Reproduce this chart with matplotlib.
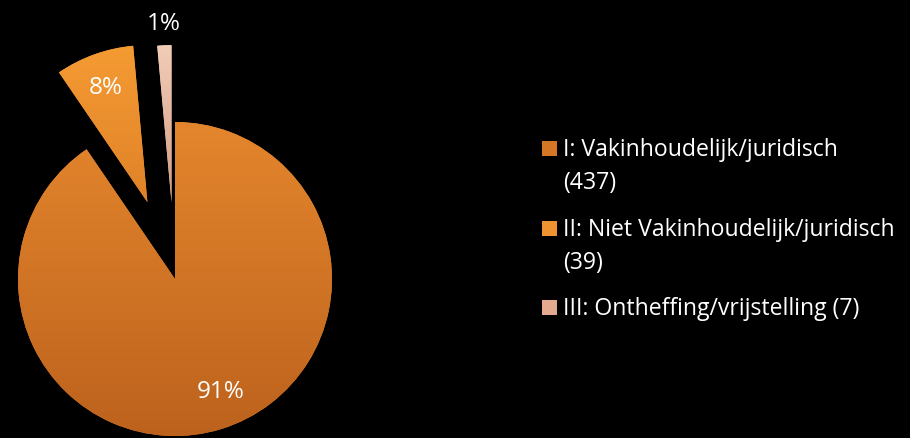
import numpy as np
import matplotlib
matplotlib.use('Agg')
import matplotlib.pyplot as plt
from matplotlib.colors import LinearSegmentedColormap
from matplotlib.patches import Rectangle

# data
categories = ['I: Vakinhoudelijk/juridisch', 'II: Niet Vakinhoudelijk/juridisch',
              'III: Ontheffing/vrijstelling']
counts = [437, 39, 7]
pct_labels = ['91%', '8%', '1%']

# styling
W, H = 910, 439
top_colors = ['#E4862D', '#F59B33', '#F2CDB6']
bot_colors = ['#BD621D', '#DF8228', '#D49C84']
marker_colors = ['#D57627', '#EE9330', '#E3AA90']
explode = [0, 0.52, 0.49]
label_dist = [0.77, 0.78, 1.14]
wrap_count = [True, True, False]
font = 'Open Sans'

fig = plt.figure(figsize=(W / 100, H / 100), dpi=100, facecolor='black')
ax = fig.add_axes([0, 0, 1, 1])
ax.set_facecolor('black')
ax.axis('off')

wedges, _ = ax.pie(counts, explode=explode, startangle=90, counterclock=False,
                   colors=top_colors, wedgeprops=dict(linewidth=0))

# vertical gradient on each slice
for w, c_top, c_bot in zip(wedges, top_colors, bot_colors):
    ext = w.get_path().get_extents()
    cmap = LinearSegmentedColormap.from_list('g', [c_bot, c_top])
    grad = np.linspace(1, 0, 256).reshape(-1, 1)
    im = ax.imshow(grad, extent=[ext.x0, ext.x1, ext.y0, ext.y1], cmap=cmap,
                   aspect='auto', origin='upper', zorder=w.get_zorder() + 0.1)
    im.set_clip_path(w)

# percentage labels
for i, (w, txt, d) in enumerate(zip(wedges, pct_labels, label_dist)):
    th = np.deg2rad((w.theta1 + w.theta2) / 2)
    if i == 0:
        th += np.deg2rad(5)
    ax.text(w.center[0] + d * np.cos(th), w.center[1] + d * np.sin(th), txt,
            color='white', fontsize=17.5, ha='center', va='center', family=font,
            zorder=5)

# pie placement: centre at (175, 280) px from top, radius 157 px
R, cx, cy = 157, 175, 280
ax.set_xlim(-cx / R, (W - cx) / R)
ax.set_ylim(-(H - cy) / R, cy / R)


def fx(x):
    return x / W


def fy(y):
    return 1 - y / H


# legend
legend_lines = []
for cat, n, wrap in zip(categories, counts, wrap_count):
    if wrap:
        legend_lines.append([cat, f'({n})'])
    else:
        legend_lines.append([f'{cat} ({n})'])

item_y = [156, 236, 315]
line_step = 33
for lines, y0, mc in zip(legend_lines, item_y, marker_colors):
    fig.patches.append(Rectangle((fx(542), fy(y0 + 1)), 15 / W, 15 / H,
                                 transform=fig.transFigure, facecolor=mc,
                                 edgecolor='none'))
    for k, line in enumerate(lines):
        fig.text(fx(563), fy(y0 + k * line_step), line, color='white',
                 fontsize=16.6, va='baseline', ha='left', family=font)

fig.savefig('out.png', dpi=100, facecolor='black')
